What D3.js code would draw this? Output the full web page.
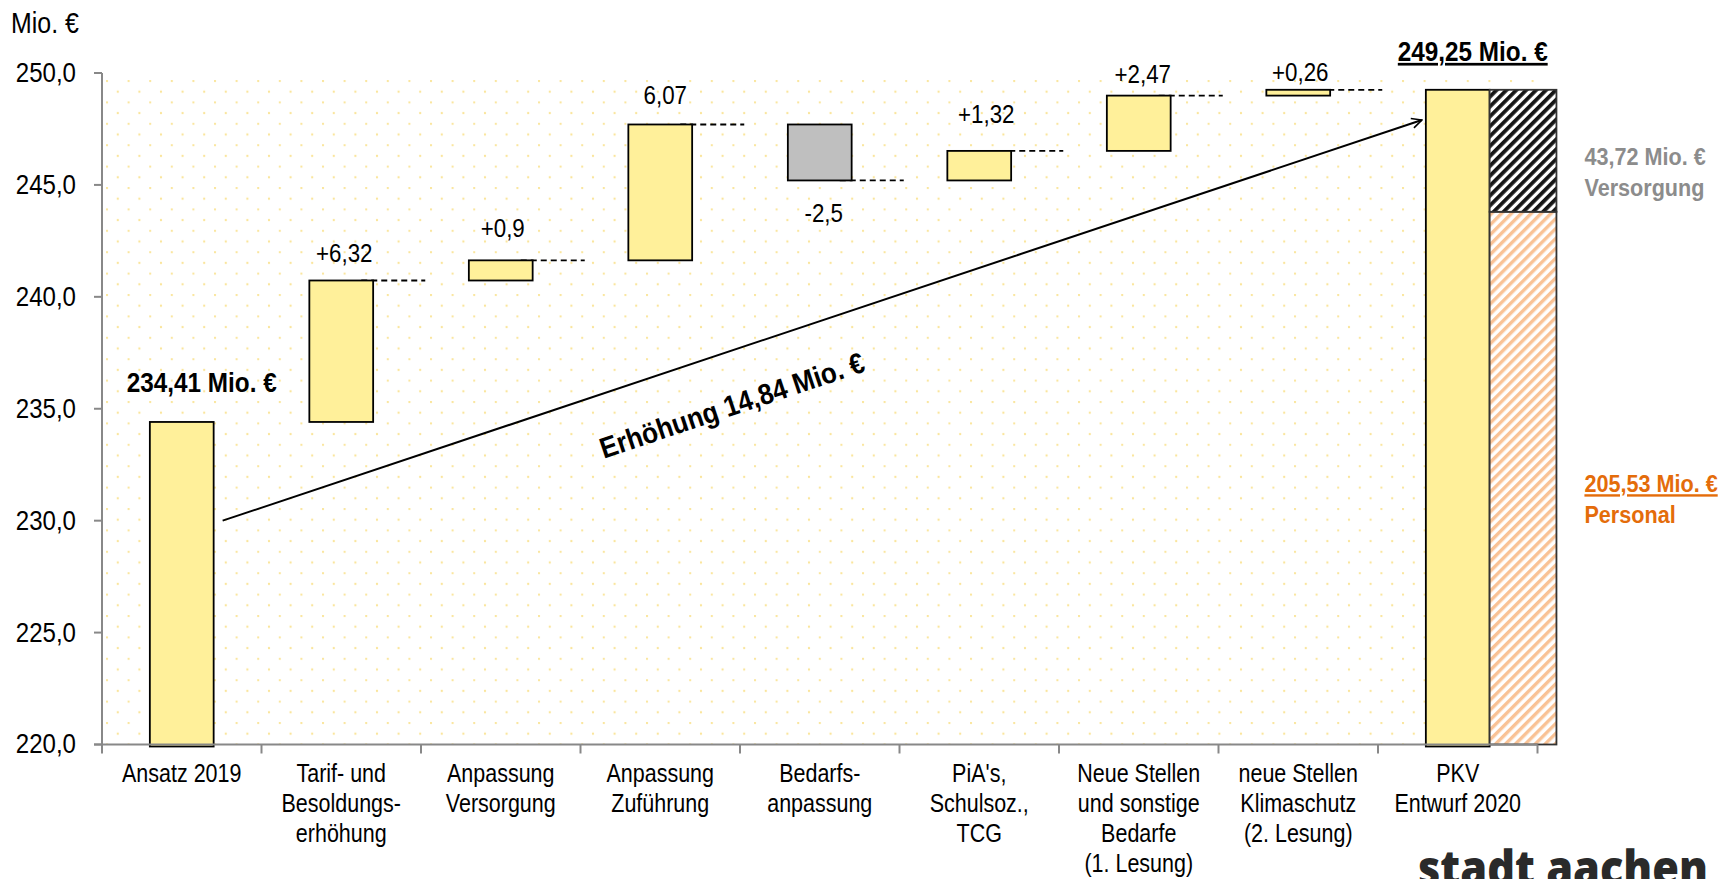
<!DOCTYPE html>
<html>
<head>
<meta charset="utf-8">
<script src="https://cdn.jsdelivr.net/npm/d3@7"></script>
<style>
  html, body { margin: 0; padding: 0; background: #fff; }
  svg { display: block; }
  text { font-family: "Liberation Sans", Arial, sans-serif; fill: #000; }
  .tick-label { font-size: 28px; }
  .cat-label { font-size: 25px; }
  .value-label { font-size: 26px; }
  .bold { font-weight: bold; }
</style>
</head>
<body>
<svg id="chart" width="1731" height="879" viewBox="0 0 1731 879"></svg>
<script>
const categories = [
  ["Ansatz 2019"],
  ["Tarif- und", "Besoldungs-", "erhöhung"],
  ["Anpassung", "Versorgung"],
  ["Anpassung", "Zuführung"],
  ["Bedarfs-", "anpassung"],
  ["PiA's,", "Schulsoz.,", "TCG"],
  ["Neue Stellen", "und sonstige", "Bedarfe", "(1. Lesung)"],
  ["neue Stellen", "Klimaschutz", "(2. Lesung)"],
  ["PKV", "Entwurf 2020"]
];
const changes = [234.41, 6.32, 0.9, 6.07, -2.5, 1.32, 2.47, 0.26];
const total = 249.25;
const valueLabels = ["234,41 Mio. €", "+6,32", "+0,9", "6,07", "-2,5", "+1,32", "+2,47", "+0,26", "249,25 Mio. €"];
const yTicks = [220, 225, 230, 235, 240, 245, 250];

// split of the last bar (hatched column)
const stackNames = ["Personal", "Versorgung"];
const stackAmounts = ["205,53 Mio. €", "43,72 Mio. €"];
const stackTops = [243.8, 249.25];

const arrowFrom = 230;
const arrowTo = 247.9;
const arrowText = "Erhöhung 14,84 Mio. €";

// label placement: px above the bar top (negative = below the bar bottom), and x shift
const labelGaps = [30, 18, 23, 20, -42, 28, 13, 9, 29];
const labelShifts = [20, 3, 2, 5, 4, 7, 4, 2, 15];

const svg = d3.select("#chart");
const width = 1731;
const margin = { top: 73, bottom: 134.5, left: 102, right: 193.5 };

// no narrow font installed: squeeze glyphs horizontally around the anchor x
function narrow(sel, k) {
  sel.each(function () {
    const ax = +this.getAttribute("x") || 0;
    d3.select(this).attr("transform", `translate(${ax * (1 - k)},0) scale(${k},1)`);
  });
}

const x = d3.scaleBand()
  .domain(d3.range(categories.length))
  .range([margin.left, width - margin.right])
  .padding(0);
const y = d3.scaleLinear()
  .domain([220, 250])
  .range([879 - margin.bottom, margin.top]);

const barW = x.bandwidth() * 0.4;
const cx = i => x(i) + x.bandwidth() / 2;

// running totals
const steps = [];
let run = 0;
changes.forEach((d, i) => {
  const start = i === 0 ? y.domain()[0] : run;
  run = i === 0 ? d : run + d;
  steps.push({ i, start, end: run, lo: Math.min(start, run), hi: Math.max(start, run), neg: d < 0 });
});
steps.push({ i: categories.length - 1, start: y.domain()[0], end: total, lo: y.domain()[0], hi: total, neg: false });

const defs = svg.append("defs");

const dots = defs.append("pattern")
  .attr("id", "dots")
  .attr("patternUnits", "userSpaceOnUse")
  .attr("x", margin.left + 4).attr("y", margin.top + 7)
  .attr("width", 21.6).attr("height", 21.4);
dots.append("circle").attr("cx", 1).attr("cy", 1).attr("r", 1.15).attr("fill", "#fae59a");
dots.append("circle").attr("cx", 11.8).attr("cy", 11.7).attr("r", 1.15).attr("fill", "#fae59a");

function hatch(id, stripe, back, sw) {
  const p = defs.append("pattern")
    .attr("id", id)
    .attr("patternUnits", "userSpaceOnUse")
    .attr("width", 7).attr("height", 7)
    .attr("patternTransform", "rotate(45)");
  p.append("rect").attr("width", 7).attr("height", 7).attr("fill", back);
  p.append("rect").attr("width", sw).attr("height", 7).attr("fill", stripe);
}
hatch("hatchDark", "#151515", "#ffffff", 3.8);
hatch("hatchOrange", "#f9c295", "#ffffff", 3.4);

defs.append("marker")
  .attr("id", "arrowHead")
  .attr("viewBox", "0 0 12 12")
  .attr("refX", 11).attr("refY", 6)
  .attr("markerWidth", 12).attr("markerHeight", 12)
  .attr("markerUnits", "userSpaceOnUse")
  .attr("orient", "auto")
  .append("path")
  .attr("d", "M1,1 L11,6 L1,11")
  .attr("fill", "none")
  .attr("stroke", "#000")
  .attr("stroke-width", 1.6);

// plot background
svg.append("rect")
  .attr("x", margin.left)
  .attr("y", margin.top)
  .attr("width", x.range()[1] - margin.left)
  .attr("height", y(220) - margin.top)
  .attr("fill", "url(#dots)");

// connectors
svg.append("g")
  .selectAll("line")
  .data(steps.slice(1, changes.length))
  .join("line")
  .attr("x1", d => cx(d.i) + 20)
  .attr("x2", d => cx(d.i) + 84)
  .attr("y1", d => y(d.end))
  .attr("y2", d => y(d.end))
  .attr("stroke", "#000")
  .attr("stroke-width", 1.8)
  .attr("stroke-dasharray", "6,4");

// bars
svg.append("g")
  .selectAll("rect")
  .data(steps)
  .join("rect")
  .attr("x", d => cx(d.i) - barW / 2)
  .attr("width", barW)
  .attr("y", d => y(d.hi))
  .attr("height", d => y(d.lo) - y(d.hi) + (d.lo === 220 ? 2 : 0))
  .attr("fill", d => d.neg ? "#bfbfbf" : "#fff09a")
  .attr("stroke", "#000")
  .attr("stroke-width", 1.8);

// hatched split of the last column
const last = categories.length - 1;
const hx = cx(last) + barW / 2;
const hw = barW + 3;
const stackBottoms = [220, ...stackTops.slice(0, -1)];
svg.append("g")
  .selectAll("rect")
  .data(stackTops)
  .join("rect")
  .attr("x", hx)
  .attr("width", hw)
  .attr("y", d => y(d))
  .attr("height", (d, i) => y(stackBottoms[i]) - y(d))
  .attr("fill", (d, i) => i === 0 ? "url(#hatchOrange)" : "url(#hatchDark)")
  .attr("stroke", "#333")
  .attr("stroke-width", 1.8);

// axes
const axisColor = "#888";
const yAxis = svg.append("g");
yAxis.append("line")
  .attr("x1", margin.left).attr("x2", margin.left)
  .attr("y1", y(250)).attr("y2", y(220))
  .attr("stroke", axisColor).attr("stroke-width", 2);
yAxis.selectAll(".yt")
  .data(yTicks)
  .join("line")
  .attr("class", "yt")
  .attr("x1", margin.left - 8).attr("x2", margin.left)
  .attr("y1", d => y(d)).attr("y2", d => y(d))
  .attr("stroke", axisColor).attr("stroke-width", 2);
yAxis.selectAll("text")
  .data(yTicks)
  .join("text")
  .attr("class", "tick-label")
  .attr("x", margin.left - 26)
  .attr("y", d => y(d) + 9)
  .attr("text-anchor", "end")
  .text(d => d3.format(".1f")(d).replace(".", ","))
  .call(narrow, 0.86);

const xAxis = svg.append("g");
xAxis.append("line")
  .attr("x1", margin.left - 8).attr("x2", x.range()[1])
  .attr("y1", y(220)).attr("y2", y(220))
  .attr("stroke", axisColor).attr("stroke-width", 2);
xAxis.selectAll("line.xt")
  .data(d3.range(categories.length + 1))
  .join("line")
  .attr("class", "xt")
  .attr("x1", i => margin.left + i * x.bandwidth())
  .attr("x2", i => margin.left + i * x.bandwidth())
  .attr("y1", y(220)).attr("y2", y(220) + 9)
  .attr("stroke", axisColor).attr("stroke-width", 2);
xAxis.selectAll("text")
  .data(categories)
  .join("text")
  .attr("class", "cat-label")
  .attr("text-anchor", "middle")
  .attr("x", (d, i) => cx(i))
  .attr("y", y(220) + 38)
  .call(narrow, 0.86)
  .selectAll("tspan")
  .data(d => d)
  .join("tspan")
  .attr("x", function () { return this.parentNode.getAttribute("x"); })
  .attr("dy", (d, j) => j === 0 ? 0 : 30)
  .text(d => d);

svg.append("text")
  .attr("class", "tick-label")
  .style("font-size", "29px")
  .attr("x", 11).attr("y", 33)
  .text("Mio. €")
  .call(narrow, 0.86);

// value labels
svg.append("g")
  .selectAll("text")
  .data(steps)
  .join("text")
  .attr("class", (d, i) => (i === 0 || i === last) ? "value-label bold" : "value-label")
  .style("font-size", (d, i) => (i === 0 || i === last) ? "27px" : null)
  .style("text-decoration", (d, i) => i === last ? "underline" : null)
  .attr("text-anchor", "middle")
  .attr("x", (d, i) => cx(d.i) + labelShifts[i])
  .attr("y", (d, i) => labelGaps[i] >= 0 ? y(d.hi) - labelGaps[i] : y(d.lo) - labelGaps[i])
  .text((d, i) => valueLabels[i])
  .each(function (d, i) { d3.select(this).call(narrow, (i === 0 || i === last) ? 0.9 : 0.86); });

// stack annotations
const stackColors = ["#e46c0a", "#8c8c8c"];
stackTops.forEach((top, i) => {
  const mid = (y(top) + y(stackBottoms[i])) / 2;
  const t = svg.append("text")
    .attr("class", "bold")
    .style("font-size", "24px")
    .attr("x", hx + hw + 28)
    .attr("y", mid + 14);
  t.append("tspan")
    .style("fill", stackColors[i])
    .style("text-decoration", i === 0 ? "underline" : null)
    .text(stackAmounts[i]);
  t.append("tspan")
    .attr("x", hx + hw + 28)
    .attr("dy", 31)
    .style("fill", stackColors[i])
    .text(stackNames[i]);
  t.call(narrow, 0.9);
});

// increase arrow
const ax1 = cx(0) + barW / 2 + 9;
const ay1 = y(arrowFrom);
const ax2 = cx(last) - barW / 2 - 4;
const ay2 = y(arrowTo);
svg.append("line")
  .attr("x1", ax1).attr("y1", ay1)
  .attr("x2", ax2).attr("y2", ay2)
  .attr("stroke", "#000")
  .attr("stroke-width", 2)
  .attr("marker-end", "url(#arrowHead)");
const angle = Math.atan2(ay2 - ay1, ax2 - ax1) * 180 / Math.PI;
const t = 0.411;
svg.append("text")
  .attr("class", "bold")
  .style("font-size", "29px")
  .attr("text-anchor", "middle")
  .attr("transform", `translate(${ax1 + t * (ax2 - ax1)},${ay1 + t * (ay2 - ay1)}) rotate(${angle}) scale(0.9,1)`)
  .attr("y", 62)
  .text(arrowText);

// logo
svg.append("text")
  .style("font-family", "'Open Sans', 'DejaVu Sans', sans-serif")
  .style("font-weight", "800")
  .style("font-size", "50px")
  .style("fill", "#2a2a2a")
  .attr("x", 1418)
  .attr("y", 886)
  .attr("textLength", 290)
  .attr("lengthAdjust", "spacingAndGlyphs")
  .text("stadt aachen");
</script>
</body>
</html>
